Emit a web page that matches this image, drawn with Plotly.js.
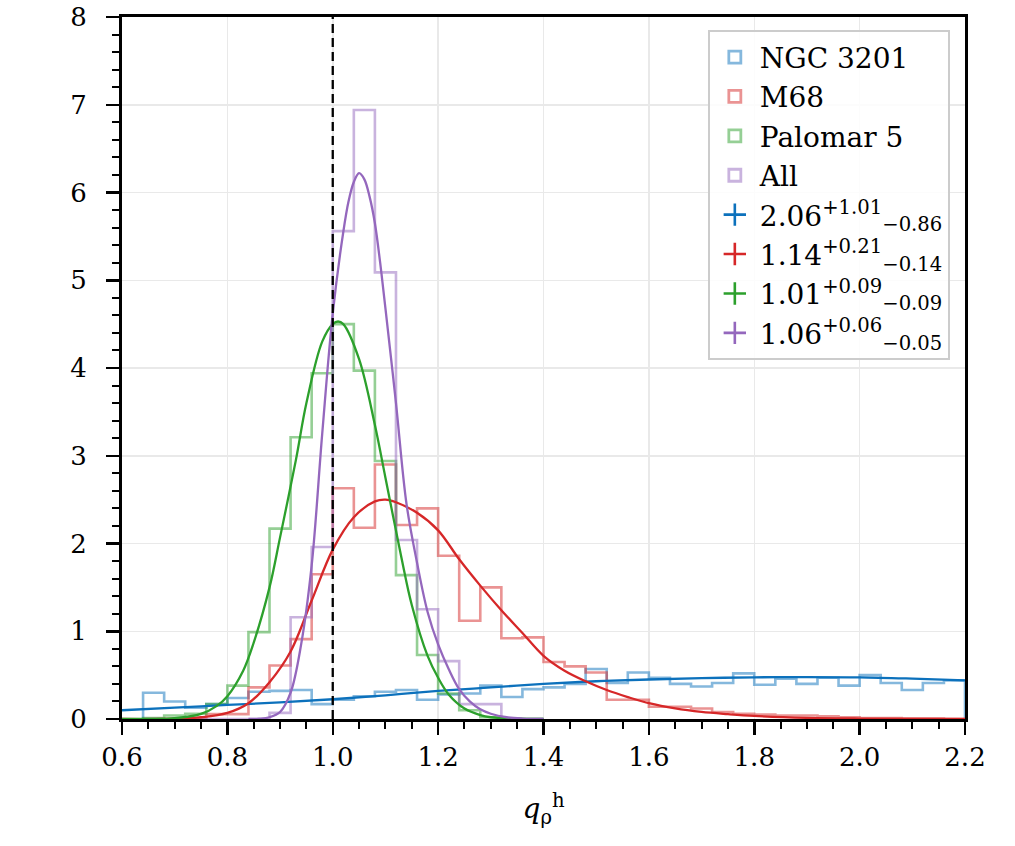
<!DOCTYPE html>
<html>
<head>
<meta charset="utf-8">
<script src="https://cdn.plot.ly/plotly-3.0.1.min.js"></script>
<style>html,body{margin:0;padding:0;background:#fff;}#chart{width:1015px;height:846px;}</style>
</head>
<body>
<div id="chart"></div>
<script>
// ---------- data ----------
const binStart = 0.64;
const binWidth = 0.04;

const histNames = ["NGC 3201", "M68", "Palomar 5", "All"];

const histNGC3201 = [0.30, 0.20, 0.13, 0.17, 0.24, 0.31, 0.32, 0.33, 0.17, 0.22,
  0.26, 0.31, 0.33, 0.22, 0.28, 0.29, 0.38, 0.25, 0.34, 0.36,
  0.40, 0.57, 0.41, 0.53, 0.47, 0.40, 0.37, 0.41, 0.52, 0.39,
  0.46, 0.40, 0.47, 0.38, 0.50, 0.41, 0.33, 0.41, 0.44];

const histM68 = [0, 0, 0, 0.055, 0.055, 0.36, 0.61, 0.91, 1.65, 2.63,
  2.18, 2.90, 2.21, 2.40, 1.86, 1.12, 1.50, 0.92, 0.93, 0.65,
  0.60, 0.53, 0.22, 0.22, 0.14, 0.14, 0.12, 0.08, 0.06, 0.05,
  0.04, 0.04, 0.03, 0.02, 0.01, 0.01, 0.005, 0.005, 0];

const histPal5 = [0.01, 0.04, 0.06, 0.17, 0.38, 0.99, 2.17, 3.21, 3.94, 4.50,
  3.97, 2.94, 1.64, 0.73, 0.29, 0.10, 0.02, 0, 0];

const histAll = [0, 0, 0, 0, 0, 0, 0.07, 1.16, 1.96, 5.56,
  6.94, 5.09, 2.04, 1.25, 0.66, 0.17, 0.17, 0, 0];

// fitted density curves
const fitNGC3201X = [0.60, 0.70, 0.80, 0.90, 1.00, 1.10, 1.20, 1.30, 1.40, 1.50, 1.60, 1.70, 1.80, 1.90, 2.00, 2.10, 2.20];
const fitNGC3201Y = [0.10, 0.13, 0.16, 0.19, 0.225, 0.27, 0.32, 0.36, 0.40, 0.43, 0.45, 0.465, 0.475, 0.478, 0.475, 0.46, 0.44];

const fitM68X = [0.60, 0.70, 0.75, 0.80, 0.84, 0.88, 0.92, 0.96, 1.00, 1.04, 1.08, 1.10, 1.12, 1.16, 1.20, 1.24, 1.28, 1.32, 1.36, 1.40, 1.44, 1.48, 1.52, 1.56, 1.60, 1.65, 1.70, 1.75, 1.80, 1.90, 2.00, 2.20];
const fitM68Y = [0.0, 0.003, 0.02, 0.07, 0.18, 0.42, 0.77, 1.35, 1.93, 2.30, 2.48, 2.50, 2.47, 2.35, 2.15, 1.82, 1.52, 1.24, 0.98, 0.72, 0.55, 0.43, 0.33, 0.25, 0.18, 0.12, 0.08, 0.055, 0.035, 0.013, 0.005, 0.001];

const fitPal5X = [0.60, 0.65, 0.70, 0.75, 0.78, 0.80, 0.83, 0.85, 0.88, 0.90, 0.93, 0.95, 0.98, 1.00, 1.01, 1.02, 1.05, 1.08, 1.10, 1.13, 1.15, 1.18, 1.20, 1.22, 1.25, 1.28, 1.30, 1.35, 1.40];
const fitPal5Y = [0.0, 0.002, 0.009, 0.058, 0.15, 0.26, 0.55, 0.87, 1.50, 2.07, 2.95, 3.60, 4.30, 4.50, 4.53, 4.50, 4.10, 3.35, 2.75, 1.85, 1.30, 0.72, 0.47, 0.28, 0.12, 0.045, 0.02, 0.003, 0.0];

const fitAllX = [0.84, 0.86, 0.88, 0.90, 0.92, 0.94, 0.96, 0.98, 1.00, 1.02, 1.03, 1.04, 1.05, 1.06, 1.07, 1.08, 1.09, 1.10, 1.12, 1.14, 1.16, 1.18, 1.20, 1.22, 1.24, 1.26, 1.28, 1.30, 1.33, 1.36, 1.40];
const fitAllY = [0.0, 0.003, 0.02, 0.08, 0.30, 0.85, 1.75, 3.25, 4.62, 5.55, 5.90, 6.12, 6.22, 6.15, 5.95, 5.65, 5.20, 4.68, 3.60, 2.45, 1.78, 1.22, 0.85, 0.57, 0.34, 0.20, 0.11, 0.06, 0.02, 0.005, 0.0];

const fitLabels = [
  "2.06<sup>+1.01</sup><sub>\u22120.86</sub>",
  "1.14<sup>+0.21</sup><sub>\u22120.14</sub>",
  "1.01<sup>+0.09</sup><sub>\u22120.09</sub>",
  "1.06<sup>+0.06</sup><sub>\u22120.05</sub>"
];

const referenceX = 1.0;

// legend proxies live on a hidden overlay axis, outside its range
const legendProxyX = [1];
const legendProxyY = [0];

// ---------- styles ----------
const curveColors = ["#0c71bc", "#d62728", "#2ca02c", "#9467bd"];
const histColors = ["rgba(12,113,188,0.5)", "rgba(214,39,40,0.5)", "rgba(44,160,44,0.5)", "rgba(148,103,189,0.5)"];
const FONT = "DejaVu Serif";

function stepXY(vals) {
  const xs = [binStart], ys = [0];
  for (let i = 0; i < vals.length; i++) {
    xs.push(binStart + i * binWidth);
    ys.push(vals[i]);
  }
  xs.push(binStart + vals.length * binWidth);
  ys.push(0);
  return {xs, ys};
}

const histSeries = [histNGC3201, histM68, histPal5, histAll];
const fitSeries = [[fitNGC3201X, fitNGC3201Y], [fitM68X, fitM68Y], [fitPal5X, fitPal5Y], [fitAllX, fitAllY]];

const traces = [];
histSeries.forEach((h, i) => {
  const s = stepXY(h);
  traces.push({
    type: "scatter", mode: "lines", x: s.xs, y: s.ys,
    line: {shape: "hv", color: histColors[i], width: 2.6},
    showlegend: false, hoverinfo: "skip"
  });
});
fitSeries.forEach((f, i) => {
  traces.push({
    type: "scatter", mode: "lines", x: f[0], y: f[1],
    line: {shape: "spline", smoothing: 1, color: curveColors[i], width: 2.3},
    showlegend: false, hoverinfo: "skip"
  });
});
histNames.forEach((n, i) => {
  traces.push({
    type: "bar", x: legendProxyX, y: legendProxyY, name: n,
    xaxis: "x2", yaxis: "y2",
    marker: {color: "rgba(255,255,255,0)", line: {color: histColors[i], width: 2.8}},
    showlegend: true, hoverinfo: "skip"
  });
});
fitLabels.forEach((n, i) => {
  traces.push({
    type: "scatter", mode: "markers", x: legendProxyX, y: legendProxyY, name: n,
    xaxis: "x2", yaxis: "y2",
    marker: {symbol: "cross-thin", size: 16, color: curveColors[i], line: {color: curveColors[i], width: 2.6}},
    showlegend: true, hoverinfo: "skip"
  });
});

const axisCommon = {
  showline: true, linecolor: "black", linewidth: 3, mirror: true,
  ticks: "outside", ticklen: 13, tickwidth: 2.5, tickcolor: "black",
  showgrid: true, gridcolor: "#e9e9e9", gridwidth: 1.5, zeroline: false,
  tickfont: {family: FONT, size: 26, color: "black"}
};

const layout = {
  width: 1015, height: 846,
  margin: {l: 122, r: 50, t: 17, b: 127},
  paper_bgcolor: "white", plot_bgcolor: "white",
  font: {family: FONT, color: "black"},
  showlegend: true,
  xaxis: Object.assign({}, axisCommon, {
    range: [0.6, 2.2], tick0: 0.6, dtick: 0.2, tickformat: ".1f",
    minor: {dtick: 0.05, tick0: 0.6, ticks: "outside", ticklen: 7, tickwidth: 2, tickcolor: "black", showgrid: false},
    title: {text: "<i>q</i><sub>\u03c1</sub><sup>h</sup>", font: {family: FONT, size: 28, color: "black"}, standoff: 28}
  }),
  yaxis: Object.assign({}, axisCommon, {
    range: [0, 8], tick0: 0, dtick: 1, ticklabelstandoff: 14,
    minor: {dtick: 0.2, tick0: 0, ticks: "outside", ticklen: 7, tickwidth: 2, tickcolor: "black", showgrid: false}
  }),
  xaxis2: {overlaying: "x", visible: false, range: [0, 2], fixedrange: true},
  yaxis2: {overlaying: "y", visible: false, range: [10, 11], fixedrange: true},
  legend: {
    x: 0.982, y: 0.981, xanchor: "right", yanchor: "top",
    bgcolor: "rgba(255,255,255,0.85)", bordercolor: "#cccccc", borderwidth: 2,
    font: {family: FONT, size: 28, color: "black"},
    tracegroupgap: 0, itemwidth: 40
  },
  shapes: [{
    type: "line", xref: "x", yref: "paper", x0: referenceX, x1: referenceX, y0: 0, y1: 1,
    line: {color: "black", width: 2.3, dash: "9px,5px"}, layer: "above"
  }]
};

Plotly.newPlot("chart", traces, layout, {staticPlot: true, displayModeBar: false});
</script>
</body>
</html>
